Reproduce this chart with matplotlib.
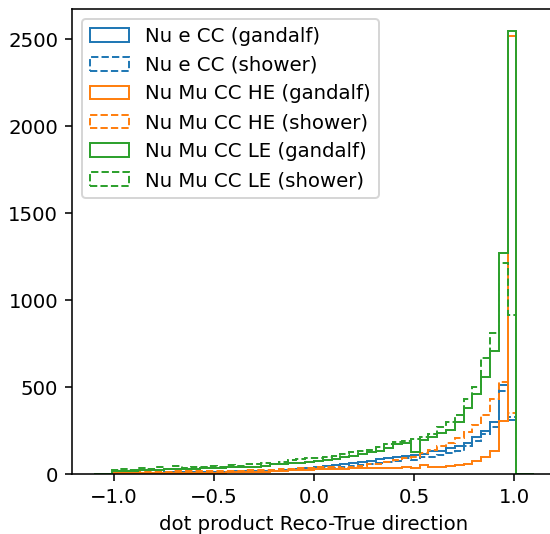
import numpy as np
import matplotlib
matplotlib.use('Agg')
import matplotlib.pyplot as plt

# bin edges: 50 bins over [-1.1, 1.1]
bin_edges = np.linspace(-1.1, 1.1, 51)
bin_centers = 0.5 * (bin_edges[:-1] + bin_edges[1:])

# counts per bin
nue_gandalf = [0, 0, 5, 6, 6, 7, 8, 8, 9, 10,
               10, 11, 12, 12, 13, 14, 15, 16, 17, 18,
               20, 22, 25, 28, 32, 38, 45, 50, 55, 62,
               68, 72, 88, 92, 95, 105, 110, 115, 130, 135,
               150, 160, 180, 215, 250, 300, 510, 310, 0, 0]
nue_shower = [0, 0, 4, 5, 5, 6, 6, 7, 8, 8,
              9, 10, 10, 11, 12, 13, 14, 15, 16, 18,
              20, 22, 24, 26, 28, 30, 33, 36, 40, 44,
              50, 55, 62, 70, 75, 90, 80, 95, 100, 110,
              120, 135, 160, 190, 230, 270, 480, 330, 0, 0]
numu_he_gandalf = [0, 0, 3, 3, 4, 4, 5, 5, 5, 6,
                   6, 7, 7, 8, 8, 9, 10, 10, 12, 14,
                   18, 20, 22, 24, 25, 26, 28, 30, 30, 32,
                   33, 34, 35, 35, 36, 38, 36, 50, 40, 42,
                   45, 50, 58, 75, 100, 135, 305, 2520, 0, 0]
numu_he_shower = [0, 0, 8, 10, 10, 12, 12, 13, 14, 15,
                  15, 16, 17, 18, 18, 19, 20, 21, 22, 24,
                  25, 27, 30, 32, 35, 38, 42, 40, 35, 38,
                  45, 55, 60, 70, 80, 90, 95, 120, 140, 160,
                  180, 210, 240, 280, 340, 430, 530, 350, 0, 0]
numu_le_gandalf = [0, 0, 15, 20, 20, 22, 25, 25, 28, 28,
                   30, 30, 32, 35, 35, 38, 40, 40, 42, 45,
                   55, 58, 62, 65, 70, 72, 78, 85, 95, 105,
                   115, 128, 130, 150, 175, 180, 125, 195, 215, 235,
                   255, 300, 380, 460, 560, 710, 1270, 2548, 0, 0]
numu_le_shower = [0, 0, 25, 30, 22, 35, 30, 40, 30, 45,
                  35, 40, 42, 45, 40, 50, 45, 55, 60, 65,
                  60, 70, 80, 85, 90, 92, 98, 105, 115, 125,
                  135, 140, 155, 175, 185, 190, 200, 215, 230, 270,
                  300, 340, 430, 500, 670, 810, 1215, 915, 0, 0]

series = [
    (nue_gandalf, 'Nu e CC (gandalf)', 'C0', '-'),
    (nue_shower, 'Nu e CC (shower)', 'C0', '--'),
    (numu_he_gandalf, 'Nu Mu CC HE (gandalf)', 'C1', '-'),
    (numu_he_shower, 'Nu Mu CC HE (shower)', 'C1', '--'),
    (numu_le_gandalf, 'Nu Mu CC LE (gandalf)', 'C2', '-'),
    (numu_le_shower, 'Nu Mu CC LE (shower)', 'C2', '--'),
]

dpi = 142
fig = plt.figure(figsize=(550 / dpi, 534 / dpi), dpi=dpi)
ax = fig.add_axes([72 / 550, 60 / 534, 484 / 550, 465 / 534])

for counts, label, color, ls in series:
    ax.hist(bin_centers, bins=bin_edges, weights=counts, histtype='step',
            color=color, linestyle=ls, label=label)

ax.set_xlabel('dot product Reco-True direction')
ax.legend(loc='upper left')

fig.savefig('out.png', dpi=dpi)
